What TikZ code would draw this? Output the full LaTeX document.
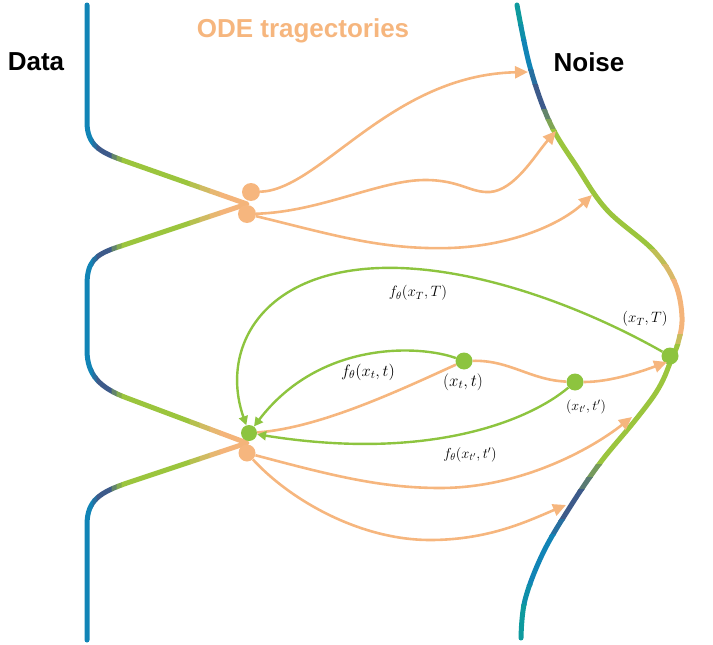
\RequirePackage{fix-cm}
\documentclass[tikz,border=0pt]{standalone}
\usepackage{fontspec}
\setsansfont{Liberation Sans}
\usetikzlibrary{arrows.meta}

\definecolor{nteal}{HTML}{0E9A9E}
\definecolor{nblue}{HTML}{1184B6}
\definecolor{nslate}{HTML}{3D5A8A}
\definecolor{ngreen}{HTML}{9BC53D}
\definecolor{norange}{HTML}{F4B47A}
\definecolor{torange}{HTML}{F6B67E}
\definecolor{fgreen}{HTML}{8DC43F}

\begin{document}
\begin{tikzpicture}[x=1pt,y=-1pt,
    curve/.style={line width=5pt,line cap=round,line join=round},
    traj/.style={draw=torange,line width=2.6pt,-{Triangle[length=13pt,width=12pt]}},
    fmap/.style={draw=fgreen,line width=2.4pt,-{Triangle[length=9pt,width=9pt]}},
    odot/.style={circle,fill=torange,inner sep=0pt,minimum size=18pt},
    gdot/.style={circle,fill=fgreen,inner sep=0pt,minimum size=17pt},
    title/.style={font=\sffamily\bfseries\fontsize{26}{30}\selectfont}]
  \useasboundingbox (0,0) rectangle (713,645);

  % data curve, colour changes with x
  \foreach \xa/\xb/\col in {0/93/nblue, 93/97/nblue!50!nslate, 97/112/nslate,
      112/117/nslate!60!ngreen, 117/122/nslate!25!ngreen, 122/190/ngreen,
      190/200/ngreen!70!norange, 200/210/ngreen!40!norange,
      210/220/ngreen!15!norange, 220/713/norange}{
    \begin{scope}
      \clip (\xa-0.4,0) rectangle (\xb+0.4,645);
      \draw[curve,draw=\col] (87,5) -- (87,122) .. controls (87,145) and (100,152) .. (122,160)
        -- (247,204) -- (115,248) .. controls (95,255) and (87,262) .. (87,285)
        -- (87,350) .. controls (87,375) and (100,388) .. (127,398)
        -- (247,443) -- (130,482) .. controls (100,492) and (87,500) .. (87,525) -- (87,640);
    \end{scope}
  }

  % noise curve, colour changes with y
  \foreach \ya/\yb/\col in {0/25/nteal, 25/40/nteal!50!nblue, 40/70/nblue,
      70/85/nblue!50!nslate, 85/110/nslate, 110/120/nslate!60!ngreen,
      120/130/nslate!30!ngreen, 130/250/ngreen, 250/265/ngreen!60!norange,
      265/280/ngreen!30!norange, 280/335/norange, 335/345/norange!50!ngreen,
      345/465/ngreen, 465/478/ngreen!60!nslate, 478/490/ngreen!30!nslate,
      490/520/nslate, 520/535/nslate!50!nblue, 535/585/nblue,
      585/605/nblue!50!nteal, 605/645/nteal}{
    \begin{scope}
      \clip (0,\ya-0.4) rectangle (713,\yb+0.4);
      \draw[curve,draw=\col] plot[smooth,tension=0.6] coordinates {(517,5) (530,67) (550,123)
        (577,167) (607,210) (653,250) (675,283) (682,317) (678,343) (670,363) (663,380)
        (653,397) (633,423) (600,463) (570,507) (543,553) (525,600) (521,638)};
    \end{scope}
  }

  \node[title,text=torange] (ttl) at (303,31) {ODE tragectories};
  \node[title] (ldata) at (36,62) {Data};
  \node[title] (lnoise) at (589,62) {Noise};

  \coordinate (n1) at (528,72);
  \coordinate (n2) at (556,131);
  \coordinate (n3) at (592,195);
  \coordinate (n4) at (667,362);
  \coordinate (n5) at (632,417);
  \coordinate (n6) at (566,505);

  \node[odot] (d1) at (251,192) {};
  \node[odot] (d2) at (247,214) {};
  \node[odot,minimum size=17pt] (d4) at (247,453) {};
  \node[gdot,minimum size=16pt] (d3) at (249,433) {};
  \node[gdot] (xt) at (464,361) {};
  \node[gdot] (xtp) at (575,382) {};
  \node[gdot] (xT) at (670,356) {};

  % ODE trajectories
  \draw[traj] (d1) .. controls (320,190) and (390,75) .. (n1);
  \draw[traj] (d2) .. controls (320,212) and (380,180) .. (425,180)
    .. controls (460,180) and (470,193) .. (490,192) .. controls (515,190) and (535,155) .. (n2);
  \draw[traj] (d2) .. controls (330,234) and (380,250) .. (450,248)
    .. controls (510,246) and (560,225) .. (n3);
  \draw[traj] (d3) .. controls (320,428) and (400,390) .. (xt)
    .. controls (510,360) and (530,380) .. (xtp) .. controls (610,382) and (640,372) .. (n4);
  \draw[traj] (d4) .. controls (330,475) and (380,488) .. (440,488)
    .. controls (520,488) and (590,450) .. (n5);
  \draw[traj] (d4) .. controls (290,500) and (360,540) .. (430,540)
    .. controls (490,540) and (530,520) .. (n6);

  % consistency maps
  \draw[fmap] (xT) .. controls (580,305) and (470,265) .. (380,268)
    .. controls (260,272) and (220,350) .. (d3);
  \draw[fmap] (xt) .. controls (420,345) and (320,340) .. (d3);
  \draw[fmap] (xtp) .. controls (530,420) and (430,462) .. (d3);

  \node[font=\fontsize{15}{17}\selectfont] (lfT) at (418,293) {$f_\theta(x_T,T)$};
  \node[font=\fontsize{15}{17}\selectfont] (lxT) at (645,319) {$(x_T,T)$};
  \node[font=\fontsize{16.5}{18}\selectfont] (lft) at (368,372) {$f_\theta(x_t,t)$};
  \node[font=\fontsize{17}{19}\selectfont] (lxt) at (463,382) {$(x_t,t)$};
  \node[font=\fontsize{14}{16}\selectfont] (lxtp) at (586,407) {$(x_{t'},t')$};
  \node[font=\fontsize{14.5}{16}\selectfont] (lftp) at (470,455) {$f_\theta(x_{t'},t')$};
\end{tikzpicture}
\end{document}
